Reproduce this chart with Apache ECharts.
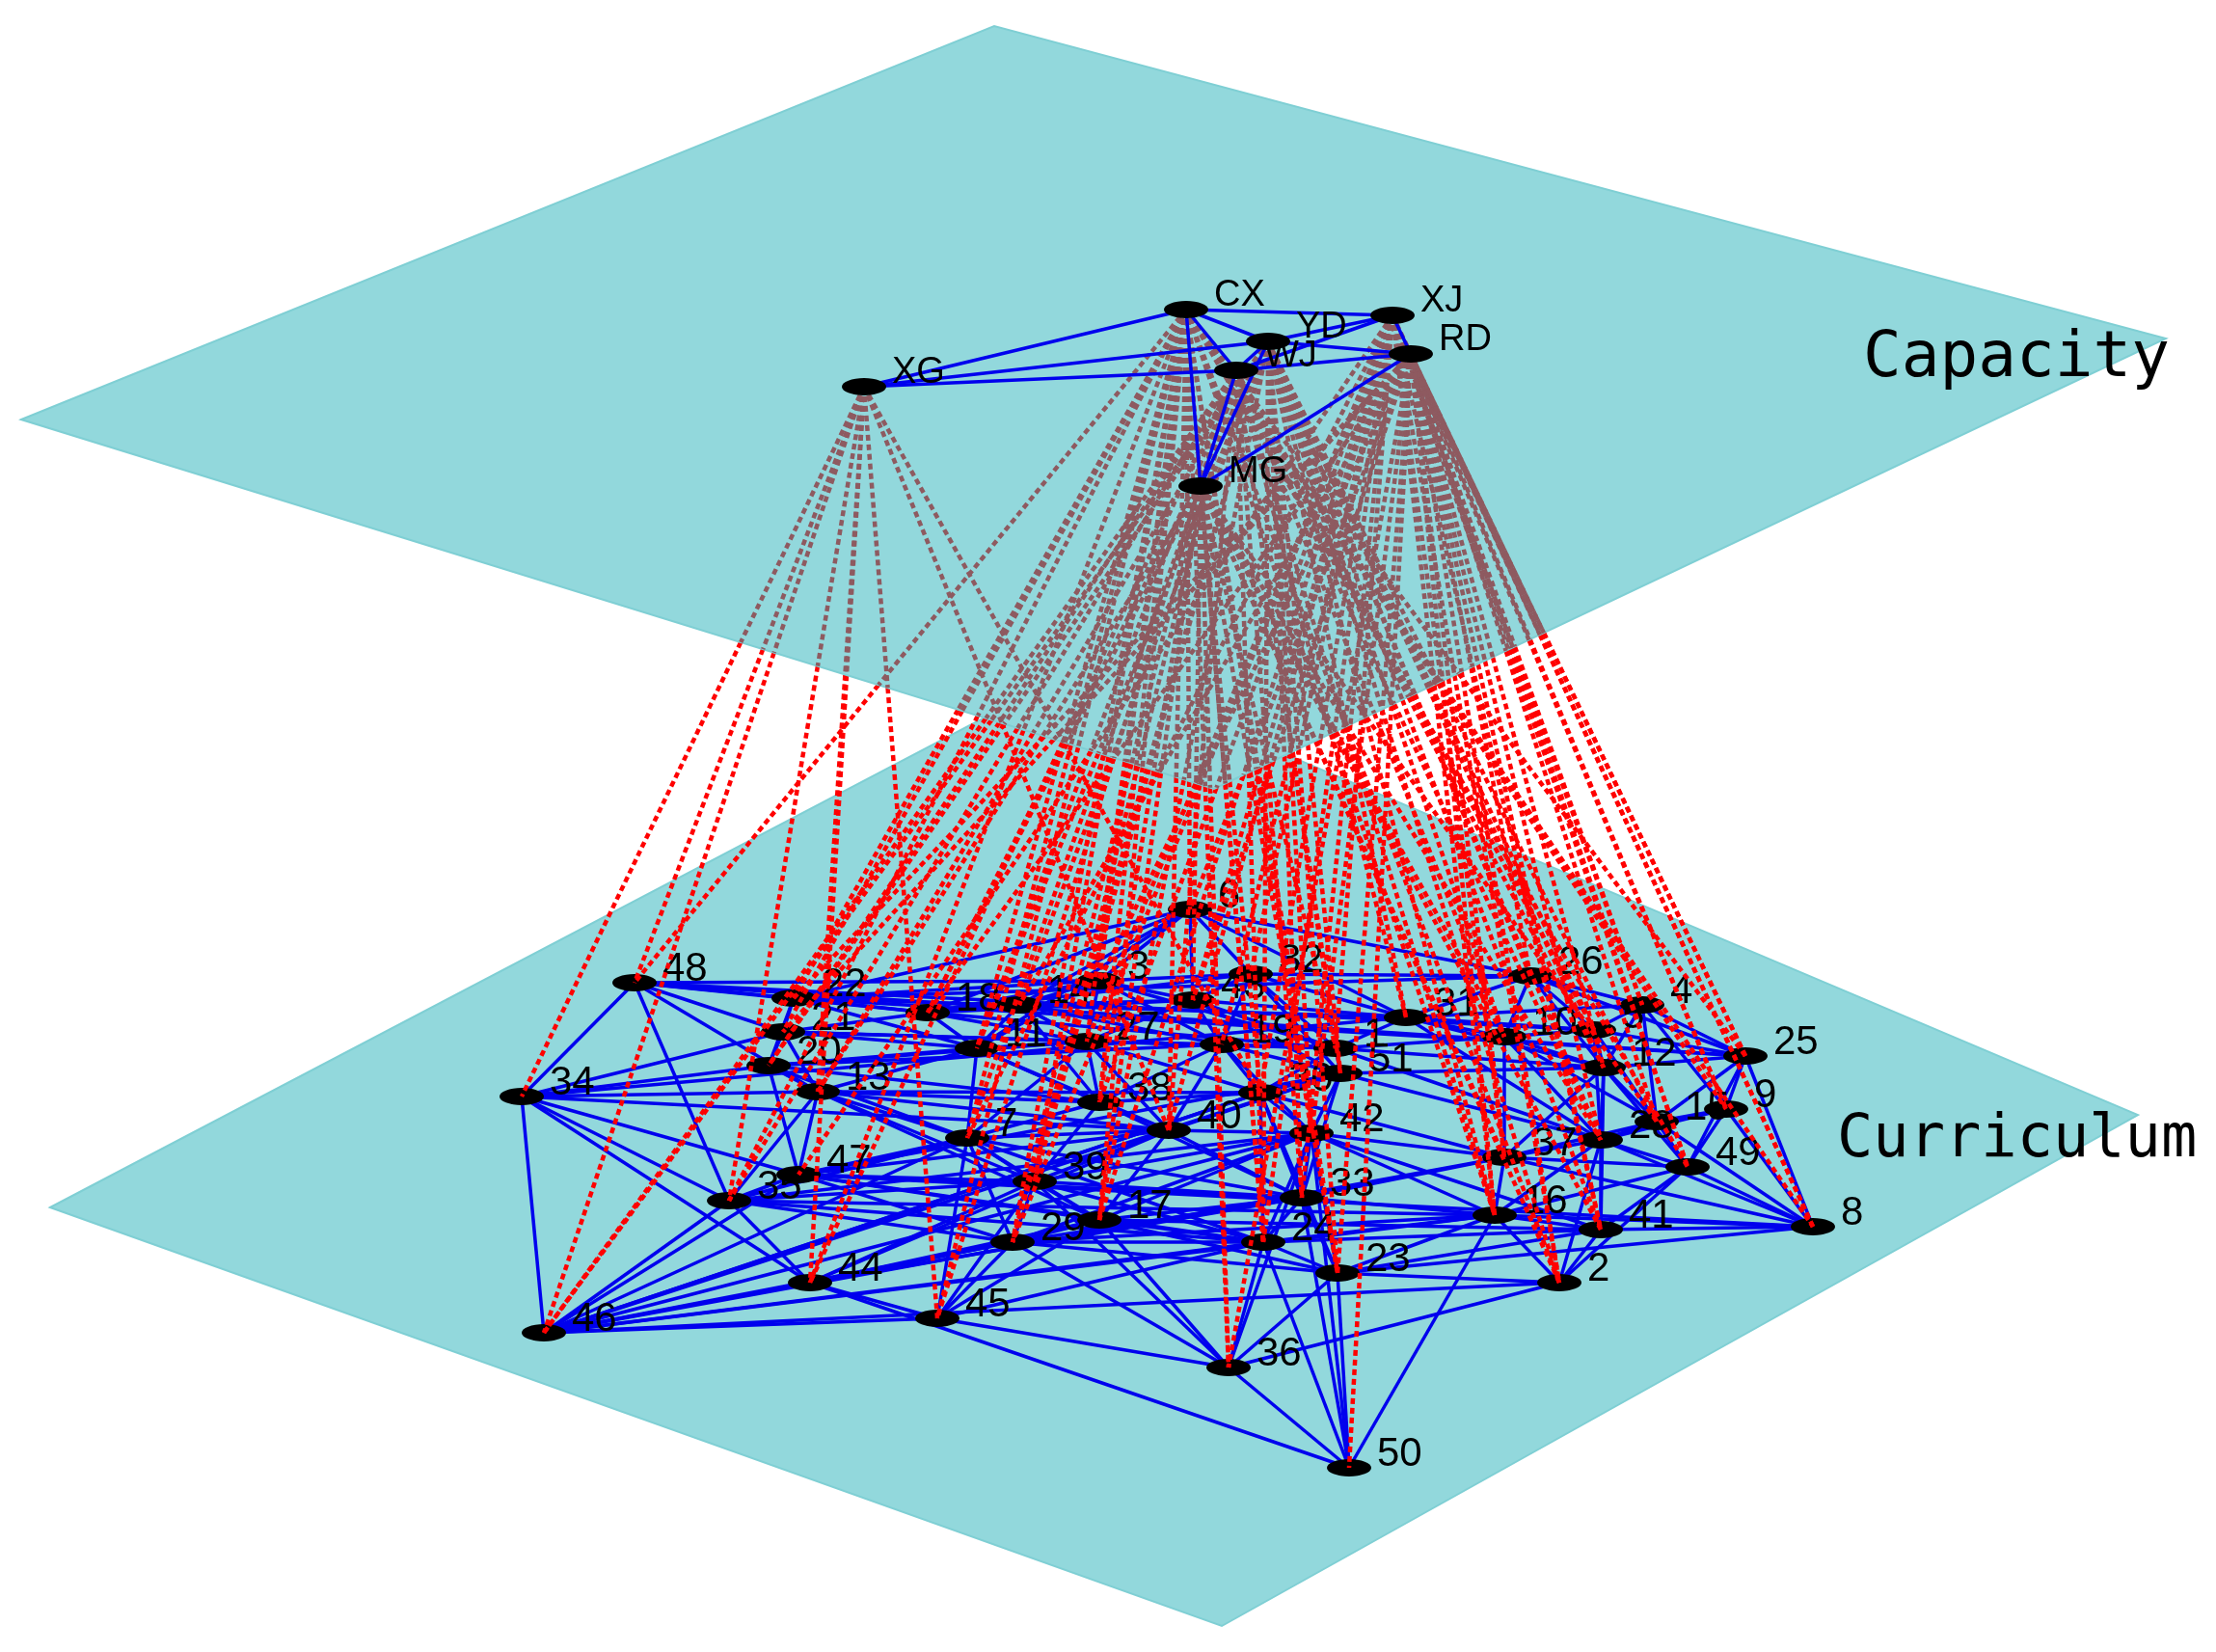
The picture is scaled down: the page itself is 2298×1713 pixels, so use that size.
<!DOCTYPE html>
<html lang="en">
<head>
<meta charset="UTF-8">
<title>Capacity / Curriculum network</title>
<script src="https://cdn.jsdelivr.net/npm/echarts@6/dist/echarts.min.js"></script>
<style>html,body{margin:0;background:#fff}</style>
</head>
<body>
<div id="main" style="width:2298px;height:1713px;"></div>
<script>
// planes (picture coordinates)
var topPlane = [[22, 435], [1031, 27], [2246, 351], [1259, 818]];
var bottomPlane = [[52, 1252], [1120, 692], [2217, 1156], [1267, 1686]];

// capacity layer nodes
var topNames = ['CX', 'YD', 'XJ', 'RD', 'WJ', 'XG', 'MG'];
var topX = [1230, 1315, 1444, 1463, 1282, 896, 1245];
var topY = [321, 354, 327, 367, 384, 401, 504];
var topEdges = ['CX-YD', 'CX-XJ', 'CX-WJ', 'CX-XG', 'CX-MG', 'YD-XJ', 'YD-RD', 'YD-WJ', 'XJ-RD',
  'XJ-WJ', 'RD-WJ', 'RD-MG', 'WJ-MG', 'WJ-XG', 'XG-YD', 'YD-MG'];

// curriculum layer nodes
var botNames = ['22', '21', '20', '13', '18', '35', '47', '7', '39', '29', '17', '24', '33', '40', '38',
  '27', '11', '14', '3', '43', '32', '19', '51', '1', '42', '31', '10', '26', '4', '5', '12', '28', '15',
  '9', '25', '49', '8', '16', '41', '2', '37', '23', '48', '34', '46', '44', '45', '36', '50', '6', '30'];
var botX = [823, 812, 797, 848, 962, 756, 828, 1003, 1073, 1050, 1140, 1310, 1350, 1212, 1140,
  1127, 1013, 1057, 1140, 1237, 1297, 1267, 1390, 1385, 1360, 1458, 1560, 1587, 1703, 1653, 1663, 1660, 1718,
  1790, 1810, 1750, 1880, 1550, 1660, 1617, 1560, 1387, 658, 541, 564, 840, 972, 1274, 1399, 1234, 1307];
var botY = [1035, 1070, 1105, 1132, 1050, 1245, 1218, 1180, 1225, 1288, 1265, 1288, 1242, 1172, 1143,
  1080, 1087, 1042, 1017, 1037, 1010, 1083, 1113, 1087, 1175, 1055, 1075, 1012, 1042, 1068, 1107, 1182, 1163,
  1150, 1095, 1210, 1272, 1260, 1275, 1330, 1200, 1320, 1019, 1137, 1382, 1330, 1367, 1418, 1522, 943, 1133];

var botEdges = [
  '48-22', '48-21', '48-34', '48-13', '48-18', '48-5', '48-35', '48-3', '48-25',
  '34-21', '34-20', '34-35', '34-46', '34-13', '34-47', '34-31', '34-40', '34-44',
  '46-35', '46-44', '46-45', '46-47', '46-29', '46-7',
  '35-44', '35-29', '35-7', '35-13', '35-47', '35-24', '35-39', '35-42', '35-16',
  '44-45', '44-29', '44-17', '44-40', '44-50', '44-39', '44-33',
  '45-36', '45-29', '45-17', '45-24', '45-39', '45-7',
  '36-50', '36-17', '36-29', '36-23', '36-24', '36-2', '36-42', '36-39',
  '50-23', '50-16', '50-24', '50-42', '50-33',
  '23-16', '23-41', '23-2', '23-24', '23-33', '23-42', '23-30', '23-8',
  '2-41', '2-16', '2-49', '2-28', '2-46',
  '41-8', '41-16', '41-49', '41-28', '41-12',
  '8-49', '8-25', '8-9', '8-15', '8-28', '8-16', '8-37',
  '25-9', '25-49', '25-4', '25-15', '25-26', '25-5', '25-22', '25-12',
  '9-49', '9-4', '9-15', '9-28',
  '49-15', '49-28', '49-12', '49-16', '49-37',
  '22-21', '22-18', '22-3', '22-6', '22-31', '22-26', '22-20', '22-11',
  '21-20', '21-13', '21-18', '21-11', '21-27', '21-1',
  '20-13', '20-47', '20-7', '20-38', '20-19',
  '13-47', '13-7', '13-39', '13-11', '13-40', '13-30',
  '18-11', '18-14', '18-3', '18-27', '18-43', '18-32', '18-6', '18-1',
  '47-7', '47-39', '47-29', '47-17', '47-24', '47-51', '47-8',
  '7-39', '7-38', '7-40', '7-29', '7-17', '7-11', '7-27',
  '39-29', '39-17', '39-40', '39-38', '39-24', '39-33',
  '29-17', '29-24', '29-23', '29-42', '29-16',
  '17-24', '17-40', '17-33', '17-23', '17-42', '17-41',
  '24-33', '24-42', '24-16', '24-46', '24-41', '24-30',
  '33-42', '33-30', '33-51', '33-40', '33-16',
  '40-38', '40-27', '40-42', '40-51', '40-19',
  '38-27', '38-11', '38-14', '38-19', '38-30',
  '27-11', '27-14', '27-3', '27-43', '27-19', '27-1',
  '11-14', '11-3', '11-6',
  '14-3', '14-43', '14-6',
  '3-43', '3-6', '3-32', '6-43', '6-32', '6-26', '6-31',
  '43-32', '43-19', '43-1', '43-31',
  '32-19', '32-1', '32-31', '32-26',
  '19-1', '19-51', '19-30', '19-42',
  '51-1', '51-30', '51-42', '51-46', '51-12',
  '1-30', '1-31', '1-10', '1-28',
  '42-30', '42-46', '42-16', '42-37',
  '31-10', '31-26', '31-4', '31-5', '31-12',
  '10-26', '10-5', '10-12', '10-37', '10-28',
  '26-4', '26-5', '4-5', '4-15', '5-12', '5-15', '12-28', '12-15', '12-37',
  '28-15', '28-37', '28-16', '15-37', '37-16', '37-46', '46-16', '46-30', '30-37',
  '20-11', '20-27', '13-38', '13-17', '47-40', '47-33', '7-24', '7-33', '39-42', '29-33',
  '11-40', '11-38', '14-27', '14-19', '3-19', '3-1', '43-51', '32-51', '27-30', '38-33',
  '31-28', '10-15', '26-12', '4-12', '5-28', '1-12', '51-28', '30-46', '42-41', '33-37'
];

// inter-layer links: capacity node -> curriculum nodes
var links = {
  XG: ['34', '35', '46', '44', '13', '48', '40', '45', '30'],
  CX: ['48', '35', '22', '21', '44', '45', '29', '7', '39', '17', '40', '24', '23', '42', '36', '2', '16', '8',
    '49', '25', '9', '3', '6', '11', '27', '38'],
  YD: ['20', '13', '18', '14', '11', '29', '39', '17', '33', '24', '23', '51', '42', '46', '16', '41', '2', '28',
    '15', '12', '10', '31', '5', '26'],
  XJ: ['47', '7', '29', '17', '38', '27', '40', '24', '33', '1', '30', '37', '16', '41', '2', '8', '9', '49',
    '25', '4', '43', '32', '19'],
  RD: ['21', '22', '18', '14', '3', '43', '6', '36', '50', '23', '42', '37', '16', '2', '41', '28', '12', '15',
    '49', '9', '25', '8', '4', '26'],
  WJ: ['35', '20', '44', '45', '39', '40', '24', '33', '1', '51', '46', '16', '11', '10', '5', '12', '28', '31'],
  MG: ['13', '18', '29', '7', '38', '17', '36', '24', '23', '1', '30', '37', '41', '2', '28', '15', '10', '43']
};

var topPos = {}, botPos = {};
topNames.forEach(function (n, i) { topPos[n] = [topX[i], topY[i]]; });
botNames.forEach(function (n, i) { botPos[n] = [botX[i], botY[i]]; });

function edgeCoords(list, pos) {
  return list.map(function (e) {
    var p = e.split('-');
    return { coords: [pos[p[0]], pos[p[1]]] };
  });
}

// where a link leaves the lower edges of the capacity plane
function segHit(a, b, c, d) {
  var r = [b[0] - a[0], b[1] - a[1]], s = [d[0] - c[0], d[1] - c[1]];
  var den = r[0] * s[1] - r[1] * s[0];
  if (Math.abs(den) < 1e-9) return null;
  var t = ((c[0] - a[0]) * s[1] - (c[1] - a[1]) * s[0]) / den;
  var u = ((c[0] - a[0]) * r[1] - (c[1] - a[1]) * r[0]) / den;
  if (t >= 0 && t <= 1 && u >= 0 && u <= 1) return [a[0] + t * r[0], a[1] + t * r[1]];
  return null;
}
var under = [], below = [];
Object.keys(links).forEach(function (k) {
  links[k].forEach(function (b) {
    var A = topPos[k], B = botPos[b];
    var P = segHit(A, B, topPlane[0], topPlane[3]) || segHit(A, B, topPlane[3], topPlane[2]) || B;
    under.push({ coords: [A, P] });
    below.push({ coords: [P, B] });
  });
});

function planeSeries(pts, z) {
  return {
    type: 'custom', z: z, silent: true,
    data: [0],
    renderItem: function (params, api) {
      return {
        type: 'polygon',
        shape: { points: pts.map(function (p) { return api.coord(p); }) },
        style: { fill: '#92d8dc', stroke: '#7fcfd4', lineWidth: 2 }
      };
    }
  };
}

function nodeSeries(names, pos, z, fs) {
  return {
    type: 'scatter', z: z, symbol: 'circle', symbolSize: [46, 18],
    itemStyle: { color: '#000', opacity: 1 },
    label: { show: true, formatter: '{b}', position: 'right', distance: 6, offset: [0, -14], color: '#000',
      fontSize: fs, fontFamily: 'Liberation Sans' },
    data: names.map(function (n) { return { name: n, value: pos[n] }; })
  };
}

function linesSeries(data, z, color, width, dashed) {
  return { type: 'lines', coordinateSystem: 'cartesian2d', z: z, silent: true,
    lineStyle: { color: color, width: width, opacity: 1, type: dashed ? [6, 4] : 'solid' }, data: data };
}

var chart = echarts.init(document.getElementById('main'));
chart.setOption({
  animation: false,
  grid: { left: 0, right: 0, top: 0, bottom: 0 },
  xAxis: { type: 'value', min: 0, max: 2298, show: false },
  yAxis: { type: 'value', min: 0, max: 1713, inverse: true, show: false },
  series: [
    planeSeries(bottomPlane, 1),
    linesSeries(edgeCoords(botEdges, botPos), 2, '#0000ee', 3.5, false),
    nodeSeries(botNames, botPos, 3, 42),
    linesSeries(below, 4, '#ff0000', 4.5, true),
    planeSeries(topPlane, 5),
    linesSeries(under, 6, '#8e5a60', 4.5, true),
    linesSeries(edgeCoords(topEdges, topPos), 7, '#0000ee', 3.5, false),
    nodeSeries(topNames, topPos, 8, 38)
  ],
  graphic: [
    { type: 'text', left: 1932, top: 340, z: 100,
      style: { text: 'Capacity', fontSize: 66, fill: '#000', fontFamily: 'DejaVu Sans Mono' } },
    { type: 'text', left: 1905, top: 1152, z: 100,
      style: { text: 'Curriculum', fontSize: 62, fill: '#000', fontFamily: 'DejaVu Sans Mono' } }
  ]
});
</script>
</body>
</html>
